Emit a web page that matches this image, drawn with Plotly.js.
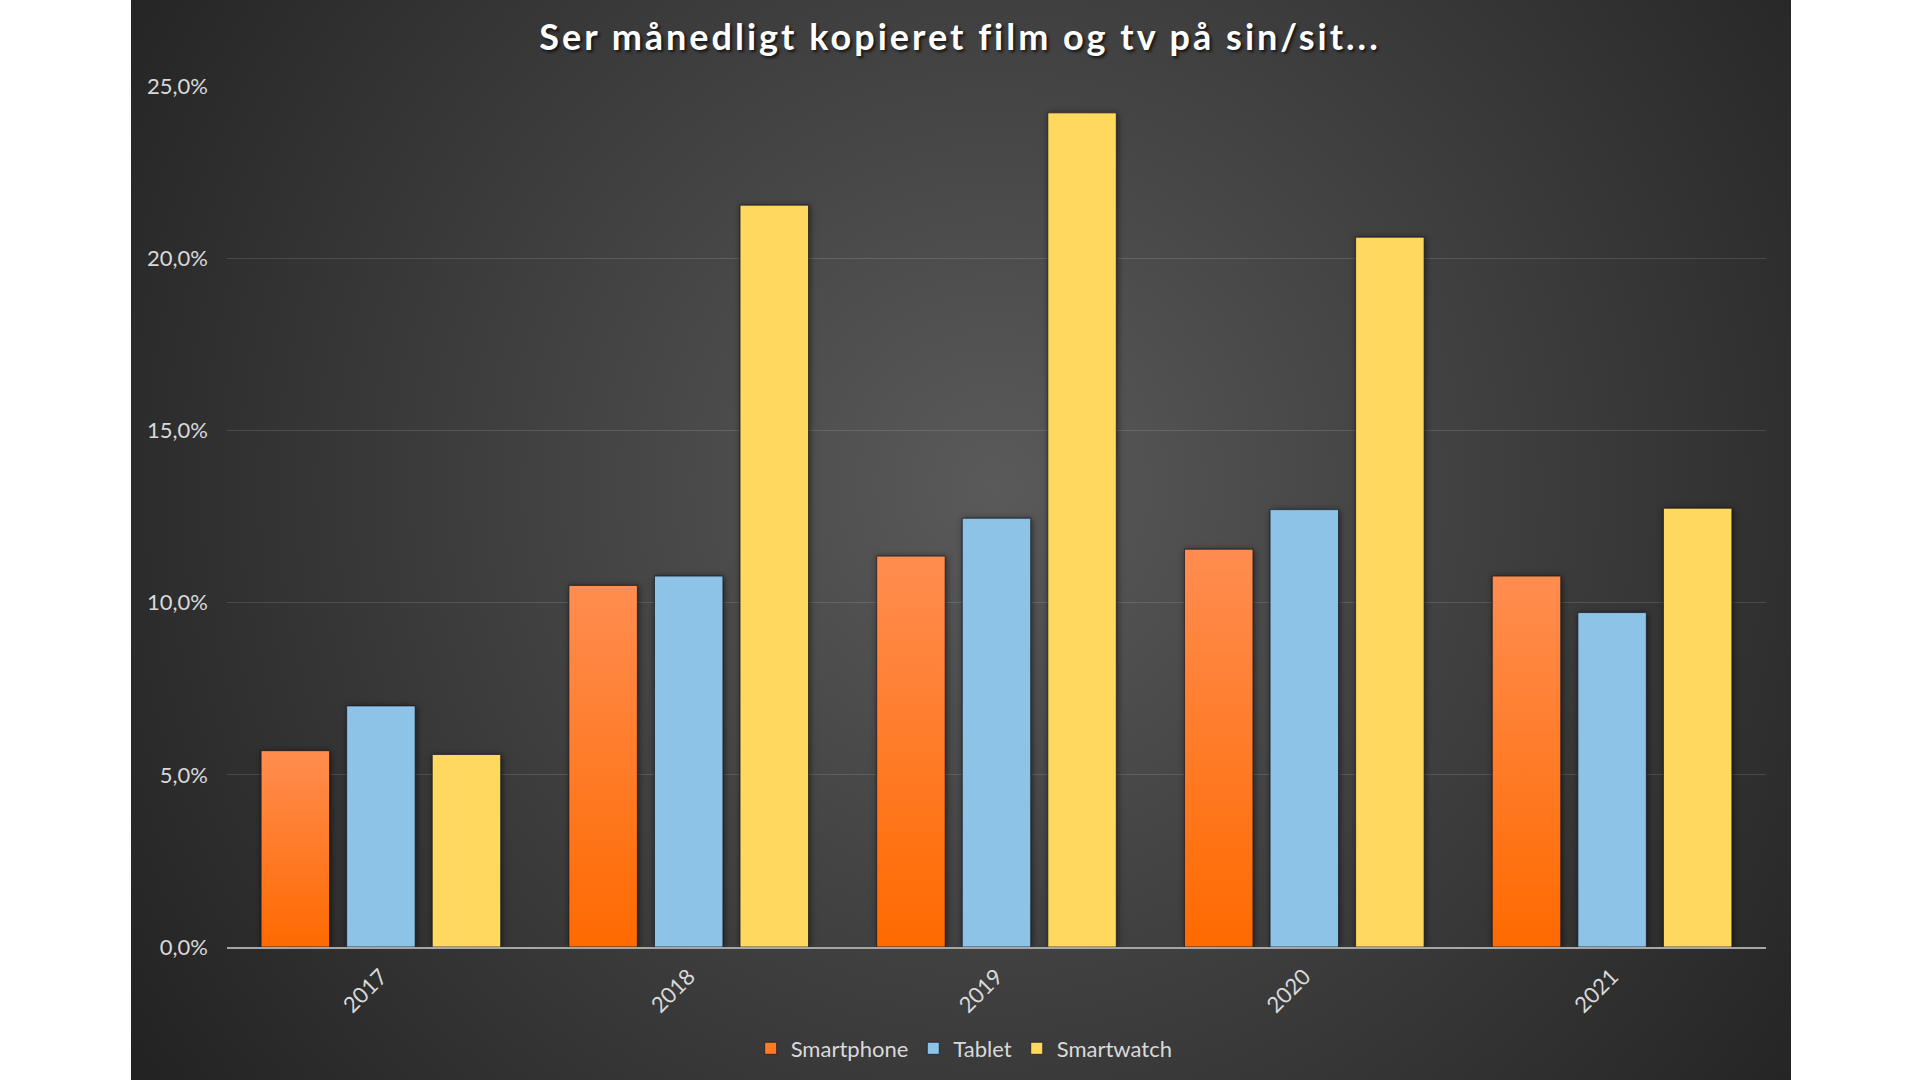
<!DOCTYPE html>
<html>
<head>
<meta charset="utf-8">
<script src="https://cdn.plot.ly/plotly-3.0.1.min.js"></script>
<style>
  html, body { margin: 0; padding: 0; background: #ffffff; }
  #bg {
    position: absolute; left: 131px; top: 0; width: 1660px; height: 1080px;
    background: radial-gradient(circle farthest-corner at 52% 45%, #5a5a5a 0%, #464646 35%, #222222 100%);
  }
  #chart { position: absolute; left: 0; top: 0; width: 1920px; height: 1080px; }
  #chart .gtitle { letter-spacing: 3px; }
</style>
</head>
<body>
<div id="bg"></div>
<div id="chart"></div>
<script>
// years on the x axis
var years = ['2017', '2018', '2019', '2020', '2021'];

// share (%) watching copied film/tv monthly, per device
var smartphone = [5.7, 10.5, 11.35, 11.55, 10.77];
var tablet = [7.0, 10.77, 12.45, 12.7, 9.71];
var smartwatch = [5.59, 21.54, 24.22, 20.61, 12.74];

var seriesNames = ['Smartphone', 'Tablet', 'Smartwatch'];

var outline = { color: 'rgba(20,20,30,0.7)', width: 1 };

var data = [
    { x: years, y: smartphone, name: seriesNames[0], type: 'bar', hoverinfo: 'none',
      marker: { color: '#ff7a26', line: outline } },
    { x: years, y: tablet, name: seriesNames[1], type: 'bar', hoverinfo: 'none',
      marker: { color: '#8dc3e6', line: outline } },
    { x: years, y: smartwatch, name: seriesNames[2], type: 'bar', hoverinfo: 'none',
      marker: { color: '#ffd95e', line: outline } }
];

var layout = {
    width: 1920,
    height: 1080,
    margin: { l: 227, r: 154, t: 86, b: 132 },
    paper_bgcolor: 'rgba(0,0,0,0)',
    plot_bgcolor: 'rgba(0,0,0,0)',
    separators: ',.',
    font: { family: 'Lato, "Open Sans", sans-serif', color: '#d9d9d9', size: 22 },
    title: {
        text: 'Ser månedligt kopieret film og tv på sin/sit...',
        x: 0.5, xanchor: 'center',
        y: 0.965, yanchor: 'middle',
        font: { family: 'Lato, "Open Sans", sans-serif', size: 36, weight: 700, color: '#ffffff',
                shadow: '2px 2px 3px rgba(0,0,0,0.7)' }
    },
    barmode: 'group',
    bargap: 0.166,
    bargroupgap: 0.2,
    showlegend: true,
    legend: {
        orientation: 'h',
        x: 0.479, xanchor: 'center',
        y: -0.1166, yanchor: 'middle',
        itemwidth: 30,
        font: { size: 22, color: '#d9d9d9' },
        bgcolor: 'rgba(0,0,0,0)'
    },
    xaxis: {
        type: 'category',
        tickangle: -45,
        showline: true,
        linecolor: '#a6a6a6',
        linewidth: 2,
        showgrid: false,
        ticks: '',
        ticklabelstandoff: 6,
        tickfont: { size: 22, color: '#d9d9d9' }
    },
    yaxis: {
        range: [0, 25],
        dtick: 5,
        tickformat: '.1f',
        ticksuffix: '%',
        showgrid: true,
        gridcolor: 'rgba(255,255,255,0.13)',
        gridwidth: 1,
        zeroline: false,
        showline: false,
        ticks: '',
        ticklabelstandoff: 18,
        tickfont: { size: 22, color: '#d9d9d9' }
    }
};

var config = {
    displayModeBar: false // no toolbar in the picture
};

Plotly.newPlot('chart', data, layout, config).then(function (gd) {
    // vertical gradient on the orange bars, and a soft shadow on all bars
    var svg = gd.querySelector('.main-svg');
    var ns = 'http://www.w3.org/2000/svg';
    var defs = svg.querySelector('defs') || svg.insertBefore(document.createElementNS(ns, 'defs'), svg.firstChild);
    var grad = document.createElementNS(ns, 'linearGradient');
    grad.setAttribute('id', 'orangeGrad');
    grad.setAttribute('x1', '0'); grad.setAttribute('y1', '0');
    grad.setAttribute('x2', '0'); grad.setAttribute('y2', '1');
    [['0%', '#ff8d50'], ['100%', '#ff6a00']].forEach(function (s) {
        var stop = document.createElementNS(ns, 'stop');
        stop.setAttribute('offset', s[0]);
        stop.setAttribute('stop-color', s[1]);
        grad.appendChild(stop);
    });
    defs.appendChild(grad);

    var traces = gd.querySelectorAll('.barlayer .trace');
    traces[0].querySelectorAll('.point path').forEach(function (p) {
        p.style.fill = 'url(#orangeGrad)';
    });
    gd.querySelectorAll('.barlayer').forEach(function (g) {
        g.style.filter = 'drop-shadow(1px 1px 3px rgba(0,0,0,0.55))';
    });
});
</script>
</body>
</html>
